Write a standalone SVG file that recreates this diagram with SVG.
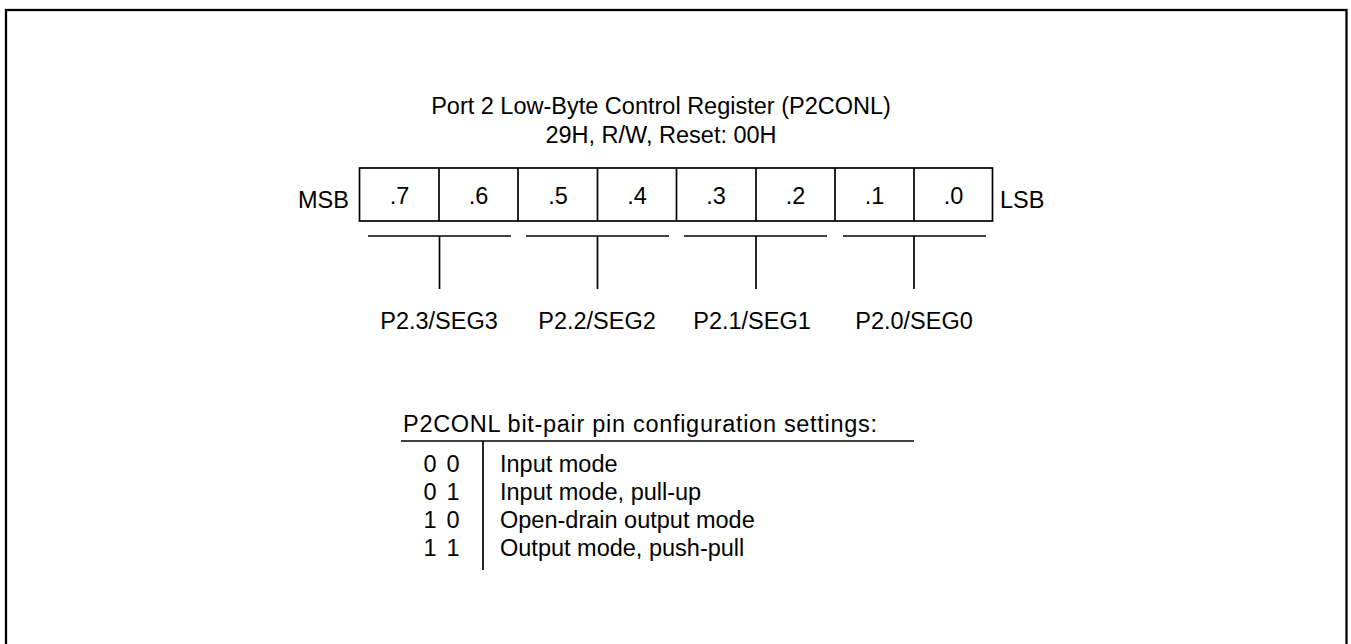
<svg xmlns="http://www.w3.org/2000/svg" width="1351" height="644" viewBox="0 0 1351 644">
<style>
text{font-family:"Liberation Sans",Arial,sans-serif;font-size:23.5px;fill:#000}
.m{text-anchor:middle}
.ln{stroke:#000;stroke-width:1.7;fill:none}
</style>
<rect x="0" y="0" width="1351" height="644" fill="#fff"/>
<rect x="6" y="10" width="1340.5" height="700" fill="none" stroke="#000" stroke-width="2.3"/>
<g id="title">
<text class="m" x="661" y="114">Port 2 Low-Byte Control Register (P2CONL)</text>
<text class="m" x="661" y="143">29H, R/W, Reset: 00H</text>
</g>
<g id="register">
<rect class="ln" x="359.5" y="168" width="633" height="53"/>
<line class="ln" x1="439" y1="168" x2="439" y2="221"/>
<line class="ln" x1="518" y1="168" x2="518" y2="221"/>
<line class="ln" x1="597.5" y1="168" x2="597.5" y2="221"/>
<line class="ln" x1="676.5" y1="168" x2="676.5" y2="221"/>
<line class="ln" x1="756" y1="168" x2="756" y2="221"/>
<line class="ln" x1="835" y1="168" x2="835" y2="221"/>
<line class="ln" x1="914" y1="168" x2="914" y2="221"/>
<text x="298" y="208">MSB</text>
<text x="1000" y="208">LSB</text>
<text class="m" x="399.5" y="204">.7</text>
<text class="m" x="478.5" y="204">.6</text>
<text class="m" x="558" y="204">.5</text>
<text class="m" x="637" y="204">.4</text>
<text class="m" x="716" y="204">.3</text>
<text class="m" x="795.5" y="204">.2</text>
<text class="m" x="874.5" y="204">.1</text>
<text class="m" x="953.5" y="204">.0</text>
</g>
<g id="connectors">
<line class="ln" x1="368" y1="236" x2="511" y2="236"/>
<line class="ln" x1="526" y1="236" x2="669" y2="236"/>
<line class="ln" x1="684" y1="236" x2="827" y2="236"/>
<line class="ln" x1="843" y1="236" x2="986" y2="236"/>
<line class="ln" x1="439.5" y1="236" x2="439.5" y2="289"/>
<line class="ln" x1="597.5" y1="236" x2="597.5" y2="289"/>
<line class="ln" x1="756" y1="236" x2="756" y2="289"/>
<line class="ln" x1="914" y1="236" x2="914" y2="289"/>
</g>
<g id="pins">
<text class="m" x="439" y="329">P2.3/SEG3</text>
<text class="m" x="597" y="329">P2.2/SEG2</text>
<text class="m" x="752" y="329">P2.1/SEG1</text>
<text class="m" x="914" y="329">P2.0/SEG0</text>
</g>
<g id="settings">
<text x="403" y="431.5" textLength="474" lengthAdjust="spacing">P2CONL bit-pair pin configuration settings:</text>
<line class="ln" x1="401" y1="441" x2="914" y2="441"/>
<line class="ln" x1="483" y1="441" x2="483" y2="570"/>
<text class="m" x="430" y="471.5">0</text><text class="m" x="453" y="471.5">0</text>
<text class="m" x="430" y="499.5">0</text><text class="m" x="453" y="499.5">1</text>
<text class="m" x="430" y="527.5">1</text><text class="m" x="453" y="527.5">0</text>
<text class="m" x="430" y="556">1</text><text class="m" x="453" y="556">1</text>
<text x="500" y="471.5">Input mode</text>
<text x="500" y="499.5">Input mode, pull-up</text>
<text x="500" y="527.5">Open-drain output mode</text>
<text x="500" y="556">Output mode, push-pull</text>
</g>
</svg>
